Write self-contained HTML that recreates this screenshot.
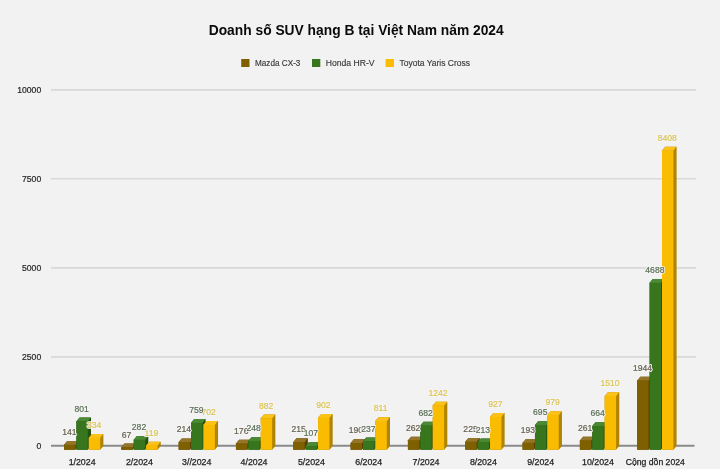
<!DOCTYPE html>
<html><head><meta charset="utf-8"><style>html,body{margin:0;padding:0;width:720px;height:469px;overflow:hidden;background:#f2f2f2;font-family:"Liberation Sans",sans-serif}</style></head><body>
<svg width="720" height="469" viewBox="0 0 720 469" style="position:absolute;left:0;top:0;will-change:transform">
<rect width="720" height="469" fill="#f2f2f2"/>
<text x="208.7" y="35.3" textLength="295" lengthAdjust="spacingAndGlyphs" font-family="Liberation Sans, sans-serif" font-weight="bold" font-size="14.2" fill="#0a0a0a">Doanh số SUV hạng B tại Việt Nam năm 2024</text>
<rect x="241.2" y="59" width="8.3" height="8" fill="#7f6000"/>
<text x="255" y="66.1" textLength="45.4" lengthAdjust="spacingAndGlyphs" font-family="Liberation Sans, sans-serif" font-size="8.6" fill="#3a3a3a" stroke="#3a3a3a" stroke-width="0.15">Mazda CX-3</text>
<rect x="312" y="59" width="8.3" height="8" fill="#38761d"/>
<text x="325.7" y="66.1" textLength="48.8" lengthAdjust="spacingAndGlyphs" font-family="Liberation Sans, sans-serif" font-size="8.6" fill="#3a3a3a" stroke="#3a3a3a" stroke-width="0.15">Honda HR-V</text>
<rect x="385.6" y="59" width="8.3" height="8" fill="#f9bc00"/>
<text x="399.6" y="66.1" textLength="70.4" lengthAdjust="spacingAndGlyphs" font-family="Liberation Sans, sans-serif" font-size="8.6" fill="#3a3a3a" stroke="#3a3a3a" stroke-width="0.15">Toyota Yaris Cross</text>
<line x1="51" y1="89.9" x2="696" y2="89.9" stroke="#d9d9d9" stroke-width="1.6"/>
<text x="41.2" y="92.8" text-anchor="end" font-family="Liberation Sans, sans-serif" font-size="8.6" fill="#262626" stroke="#262626" stroke-width="0.2">10000</text>
<line x1="51" y1="178.8" x2="696" y2="178.8" stroke="#d9d9d9" stroke-width="1.6"/>
<text x="41.2" y="181.7" text-anchor="end" font-family="Liberation Sans, sans-serif" font-size="8.6" fill="#262626" stroke="#262626" stroke-width="0.2">7500</text>
<line x1="51" y1="267.9" x2="696" y2="267.9" stroke="#d9d9d9" stroke-width="1.6"/>
<text x="41.2" y="270.8" text-anchor="end" font-family="Liberation Sans, sans-serif" font-size="8.6" fill="#262626" stroke="#262626" stroke-width="0.2">5000</text>
<line x1="51" y1="356.9" x2="696" y2="356.9" stroke="#d9d9d9" stroke-width="1.6"/>
<text x="41.2" y="359.8" text-anchor="end" font-family="Liberation Sans, sans-serif" font-size="8.6" fill="#262626" stroke="#262626" stroke-width="0.2">2500</text>
<text x="41.2" y="449" text-anchor="end" font-family="Liberation Sans, sans-serif" font-size="8.6" fill="#262626" stroke="#262626" stroke-width="0.2">0</text>
<line x1="51" y1="445.8" x2="694.5" y2="445.8" stroke="#8a8a8a" stroke-width="2"/>
<polygon points="64,449.7 64,444.68 67.2,440.98 78.6,440.98 78.6,446 75.4,449.7" fill="#574000"/>
<polygon points="64,444.98 67.2,440.98 78.3,440.98 75.4,444.98" fill="#94752a"/>
<rect x="64" y="444.68" width="11.4" height="5.02" fill="#7f6000"/>
<polygon points="76.4,449.7 76.4,421.18 79.6,417.48 91,417.48 91,446 87.8,449.7" fill="#255212"/>
<polygon points="76.4,421.48 79.6,417.48 90.7,417.48 87.8,421.48" fill="#4a8a34"/>
<rect x="76.4" y="421.18" width="11.4" height="28.52" fill="#38761d"/>
<polygon points="88.8,449.7 88.8,437.81 92,434.11 103.4,434.11 103.4,446 100.2,449.7" fill="#b08400"/>
<polygon points="88.8,438.11 92,434.11 103.1,434.11 100.2,438.11" fill="#fbc31a"/>
<rect x="88.8" y="437.81" width="11.4" height="11.89" fill="#f9bc00"/>
<text x="82.1" y="464.8" text-anchor="middle" font-family="Liberation Sans, sans-serif" font-size="8.8" fill="#1e1e1e" stroke="#1e1e1e" stroke-width="0.25">1/2024</text>
<polygon points="121.32,449.7 121.32,447.31 124.52,443.61 135.92,443.61 135.92,446 132.72,449.7" fill="#574000"/>
<polygon points="121.32,447.61 124.52,443.61 135.62,443.61 132.72,447.61" fill="#94752a"/>
<rect x="121.32" y="447.31" width="11.4" height="2.39" fill="#7f6000"/>
<polygon points="133.72,449.7 133.72,439.66 136.92,435.96 148.32,435.96 148.32,446 145.12,449.7" fill="#255212"/>
<polygon points="133.72,439.96 136.92,435.96 148.02,435.96 145.12,439.96" fill="#4a8a34"/>
<rect x="133.72" y="439.66" width="11.4" height="10.04" fill="#38761d"/>
<polygon points="146.12,449.7 146.12,445.46 149.32,441.76 160.72,441.76 160.72,446 157.52,449.7" fill="#b08400"/>
<polygon points="146.12,445.76 149.32,441.76 160.42,441.76 157.52,445.76" fill="#fbc31a"/>
<rect x="146.12" y="445.46" width="11.4" height="4.24" fill="#f9bc00"/>
<text x="139.42" y="464.8" text-anchor="middle" font-family="Liberation Sans, sans-serif" font-size="8.8" fill="#1e1e1e" stroke="#1e1e1e" stroke-width="0.25">2/2024</text>
<polygon points="178.64,449.7 178.64,442.08 181.84,438.38 193.24,438.38 193.24,446 190.04,449.7" fill="#574000"/>
<polygon points="178.64,442.38 181.84,438.38 192.94,438.38 190.04,442.38" fill="#94752a"/>
<rect x="178.64" y="442.08" width="11.4" height="7.62" fill="#7f6000"/>
<polygon points="191.04,449.7 191.04,422.68 194.24,418.98 205.64,418.98 205.64,446 202.44,449.7" fill="#255212"/>
<polygon points="191.04,422.98 194.24,418.98 205.34,418.98 202.44,422.98" fill="#4a8a34"/>
<rect x="191.04" y="422.68" width="11.4" height="27.02" fill="#38761d"/>
<polygon points="203.44,449.7 203.44,424.71 206.64,421.01 218.04,421.01 218.04,446 214.84,449.7" fill="#b08400"/>
<polygon points="203.44,425.01 206.64,421.01 217.74,421.01 214.84,425.01" fill="#fbc31a"/>
<rect x="203.44" y="424.71" width="11.4" height="24.99" fill="#f9bc00"/>
<text x="196.74" y="464.8" text-anchor="middle" font-family="Liberation Sans, sans-serif" font-size="8.8" fill="#1e1e1e" stroke="#1e1e1e" stroke-width="0.25">3//2024</text>
<polygon points="235.96,449.7 235.96,443.43 239.16,439.73 250.56,439.73 250.56,446 247.36,449.7" fill="#574000"/>
<polygon points="235.96,443.73 239.16,439.73 250.26,439.73 247.36,443.73" fill="#94752a"/>
<rect x="235.96" y="443.43" width="11.4" height="6.27" fill="#7f6000"/>
<polygon points="248.36,449.7 248.36,440.87 251.56,437.17 262.96,437.17 262.96,446 259.76,449.7" fill="#255212"/>
<polygon points="248.36,441.17 251.56,437.17 262.66,437.17 259.76,441.17" fill="#4a8a34"/>
<rect x="248.36" y="440.87" width="11.4" height="8.83" fill="#38761d"/>
<polygon points="260.76,449.7 260.76,418.3 263.96,414.6 275.36,414.6 275.36,446 272.16,449.7" fill="#b08400"/>
<polygon points="260.76,418.6 263.96,414.6 275.06,414.6 272.16,418.6" fill="#fbc31a"/>
<rect x="260.76" y="418.3" width="11.4" height="31.4" fill="#f9bc00"/>
<text x="254.06" y="464.8" text-anchor="middle" font-family="Liberation Sans, sans-serif" font-size="8.8" fill="#1e1e1e" stroke="#1e1e1e" stroke-width="0.25">4/2024</text>
<polygon points="293.28,449.7 293.28,442.05 296.48,438.35 307.88,438.35 307.88,446 304.68,449.7" fill="#574000"/>
<polygon points="293.28,442.35 296.48,438.35 307.58,438.35 304.68,442.35" fill="#94752a"/>
<rect x="293.28" y="442.05" width="11.4" height="7.65" fill="#7f6000"/>
<polygon points="305.68,449.7 305.68,445.89 308.88,442.19 320.28,442.19 320.28,446 317.08,449.7" fill="#255212"/>
<polygon points="305.68,446.19 308.88,442.19 319.98,442.19 317.08,446.19" fill="#4a8a34"/>
<rect x="305.68" y="445.89" width="11.4" height="3.81" fill="#38761d"/>
<polygon points="318.08,449.7 318.08,417.59 321.28,413.89 332.68,413.89 332.68,446 329.48,449.7" fill="#b08400"/>
<polygon points="318.08,417.89 321.28,413.89 332.38,413.89 329.48,417.89" fill="#fbc31a"/>
<rect x="318.08" y="417.59" width="11.4" height="32.11" fill="#f9bc00"/>
<text x="311.38" y="464.8" text-anchor="middle" font-family="Liberation Sans, sans-serif" font-size="8.8" fill="#1e1e1e" stroke="#1e1e1e" stroke-width="0.25">5/2024</text>
<polygon points="350.6,449.7 350.6,442.94 353.8,439.24 365.2,439.24 365.2,446 362,449.7" fill="#574000"/>
<polygon points="350.6,443.24 353.8,439.24 364.9,439.24 362,443.24" fill="#94752a"/>
<rect x="350.6" y="442.94" width="11.4" height="6.76" fill="#7f6000"/>
<polygon points="363,449.7 363,441.26 366.2,437.56 377.6,437.56 377.6,446 374.4,449.7" fill="#255212"/>
<polygon points="363,441.56 366.2,437.56 377.3,437.56 374.4,441.56" fill="#4a8a34"/>
<rect x="363" y="441.26" width="11.4" height="8.44" fill="#38761d"/>
<polygon points="375.4,449.7 375.4,420.83 378.6,417.13 390,417.13 390,446 386.8,449.7" fill="#b08400"/>
<polygon points="375.4,421.13 378.6,417.13 389.7,417.13 386.8,421.13" fill="#fbc31a"/>
<rect x="375.4" y="420.83" width="11.4" height="28.87" fill="#f9bc00"/>
<text x="368.7" y="464.8" text-anchor="middle" font-family="Liberation Sans, sans-serif" font-size="8.8" fill="#1e1e1e" stroke="#1e1e1e" stroke-width="0.25">6/2024</text>
<polygon points="407.92,449.7 407.92,440.37 411.12,436.67 422.52,436.67 422.52,446 419.32,449.7" fill="#574000"/>
<polygon points="407.92,440.67 411.12,436.67 422.22,436.67 419.32,440.67" fill="#94752a"/>
<rect x="407.92" y="440.37" width="11.4" height="9.33" fill="#7f6000"/>
<polygon points="420.32,449.7 420.32,425.42 423.52,421.72 434.92,421.72 434.92,446 431.72,449.7" fill="#255212"/>
<polygon points="420.32,425.72 423.52,421.72 434.62,421.72 431.72,425.72" fill="#4a8a34"/>
<rect x="420.32" y="425.42" width="11.4" height="24.28" fill="#38761d"/>
<polygon points="432.72,449.7 432.72,405.48 435.92,401.78 447.32,401.78 447.32,446 444.12,449.7" fill="#b08400"/>
<polygon points="432.72,405.78 435.92,401.78 447.02,401.78 444.12,405.78" fill="#fbc31a"/>
<rect x="432.72" y="405.48" width="11.4" height="44.22" fill="#f9bc00"/>
<text x="426.02" y="464.8" text-anchor="middle" font-family="Liberation Sans, sans-serif" font-size="8.8" fill="#1e1e1e" stroke="#1e1e1e" stroke-width="0.25">7/2024</text>
<polygon points="465.24,449.7 465.24,441.69 468.44,437.99 479.84,437.99 479.84,446 476.64,449.7" fill="#574000"/>
<polygon points="465.24,441.99 468.44,437.99 479.54,437.99 476.64,441.99" fill="#94752a"/>
<rect x="465.24" y="441.69" width="11.4" height="8.01" fill="#7f6000"/>
<polygon points="477.64,449.7 477.64,442.12 480.84,438.42 492.24,438.42 492.24,446 489.04,449.7" fill="#255212"/>
<polygon points="477.64,442.42 480.84,438.42 491.94,438.42 489.04,442.42" fill="#4a8a34"/>
<rect x="477.64" y="442.12" width="11.4" height="7.58" fill="#38761d"/>
<polygon points="490.04,449.7 490.04,416.7 493.24,413 504.64,413 504.64,446 501.44,449.7" fill="#b08400"/>
<polygon points="490.04,417 493.24,413 504.34,413 501.44,417" fill="#fbc31a"/>
<rect x="490.04" y="416.7" width="11.4" height="33" fill="#f9bc00"/>
<text x="483.34" y="464.8" text-anchor="middle" font-family="Liberation Sans, sans-serif" font-size="8.8" fill="#1e1e1e" stroke="#1e1e1e" stroke-width="0.25">8/2024</text>
<polygon points="522.56,449.7 522.56,442.83 525.76,439.13 537.16,439.13 537.16,446 533.96,449.7" fill="#574000"/>
<polygon points="522.56,443.13 525.76,439.13 536.86,439.13 533.96,443.13" fill="#94752a"/>
<rect x="522.56" y="442.83" width="11.4" height="6.87" fill="#7f6000"/>
<polygon points="534.96,449.7 534.96,424.96 538.16,421.26 549.56,421.26 549.56,446 546.36,449.7" fill="#255212"/>
<polygon points="534.96,425.26 538.16,421.26 549.26,421.26 546.36,425.26" fill="#4a8a34"/>
<rect x="534.96" y="424.96" width="11.4" height="24.74" fill="#38761d"/>
<polygon points="547.36,449.7 547.36,414.85 550.56,411.15 561.96,411.15 561.96,446 558.76,449.7" fill="#b08400"/>
<polygon points="547.36,415.15 550.56,411.15 561.66,411.15 558.76,415.15" fill="#fbc31a"/>
<rect x="547.36" y="414.85" width="11.4" height="34.85" fill="#f9bc00"/>
<text x="540.66" y="464.8" text-anchor="middle" font-family="Liberation Sans, sans-serif" font-size="8.8" fill="#1e1e1e" stroke="#1e1e1e" stroke-width="0.25">9/2024</text>
<polygon points="579.88,449.7 579.88,440.41 583.08,436.71 594.48,436.71 594.48,446 591.28,449.7" fill="#574000"/>
<polygon points="579.88,440.71 583.08,436.71 594.18,436.71 591.28,440.71" fill="#94752a"/>
<rect x="579.88" y="440.41" width="11.4" height="9.29" fill="#7f6000"/>
<polygon points="592.28,449.7 592.28,426.06 595.48,422.36 606.88,422.36 606.88,446 603.68,449.7" fill="#255212"/>
<polygon points="592.28,426.36 595.48,422.36 606.58,422.36 603.68,426.36" fill="#4a8a34"/>
<rect x="592.28" y="426.06" width="11.4" height="23.64" fill="#38761d"/>
<polygon points="604.68,449.7 604.68,395.94 607.88,392.24 619.28,392.24 619.28,446 616.08,449.7" fill="#b08400"/>
<polygon points="604.68,396.24 607.88,392.24 618.98,392.24 616.08,396.24" fill="#fbc31a"/>
<rect x="604.68" y="395.94" width="11.4" height="53.76" fill="#f9bc00"/>
<text x="597.98" y="464.8" text-anchor="middle" font-family="Liberation Sans, sans-serif" font-size="8.8" fill="#1e1e1e" stroke="#1e1e1e" stroke-width="0.25">10/2024</text>
<polygon points="637.2,449.7 637.2,380.49 640.4,376.79 651.8,376.79 651.8,446 648.6,449.7" fill="#574000"/>
<polygon points="637.2,380.79 640.4,376.79 651.5,376.79 648.6,380.79" fill="#94752a"/>
<rect x="637.2" y="380.49" width="11.4" height="69.21" fill="#7f6000"/>
<polygon points="649.6,449.7 649.6,282.81 652.8,279.11 664.2,279.11 664.2,446 661,449.7" fill="#255212"/>
<polygon points="649.6,283.11 652.8,279.11 663.9,279.11 661,283.11" fill="#4a8a34"/>
<rect x="649.6" y="282.81" width="11.4" height="166.89" fill="#38761d"/>
<polygon points="662,449.7 662,150.38 665.2,146.68 676.6,146.68 676.6,446 673.4,449.7" fill="#b08400"/>
<polygon points="662,150.68 665.2,146.68 676.3,146.68 673.4,150.68" fill="#fbc31a"/>
<rect x="662" y="150.38" width="11.4" height="299.32" fill="#f9bc00"/>
<text x="655.3" y="464.8" textLength="59" lengthAdjust="spacingAndGlyphs" text-anchor="middle" font-family="Liberation Sans, sans-serif" font-size="8.8" fill="#1e1e1e" stroke="#1e1e1e" stroke-width="0.25">Cộng dồn 2024</text>
<text x="69.3" y="435.08" text-anchor="middle" font-family="Liberation Sans, sans-serif" font-size="8.6" fill="#f6f6f6" stroke="#f6f6f6" stroke-width="2" stroke-linejoin="round" opacity="0.9">141</text>
<text x="69.3" y="435.08" text-anchor="middle" font-family="Liberation Sans, sans-serif" font-size="8.6" fill="#676150" stroke="#676150" stroke-width="0.2">141</text>
<text x="126.62" y="437.71" text-anchor="middle" font-family="Liberation Sans, sans-serif" font-size="8.6" fill="#f6f6f6" stroke="#f6f6f6" stroke-width="2" stroke-linejoin="round" opacity="0.9">67</text>
<text x="126.62" y="437.71" text-anchor="middle" font-family="Liberation Sans, sans-serif" font-size="8.6" fill="#676150" stroke="#676150" stroke-width="0.2">67</text>
<text x="183.94" y="432.48" text-anchor="middle" font-family="Liberation Sans, sans-serif" font-size="8.6" fill="#f6f6f6" stroke="#f6f6f6" stroke-width="2" stroke-linejoin="round" opacity="0.9">214</text>
<text x="183.94" y="432.48" text-anchor="middle" font-family="Liberation Sans, sans-serif" font-size="8.6" fill="#676150" stroke="#676150" stroke-width="0.2">214</text>
<text x="241.26" y="433.83" text-anchor="middle" font-family="Liberation Sans, sans-serif" font-size="8.6" fill="#f6f6f6" stroke="#f6f6f6" stroke-width="2" stroke-linejoin="round" opacity="0.9">176</text>
<text x="241.26" y="433.83" text-anchor="middle" font-family="Liberation Sans, sans-serif" font-size="8.6" fill="#676150" stroke="#676150" stroke-width="0.2">176</text>
<text x="298.58" y="432.45" text-anchor="middle" font-family="Liberation Sans, sans-serif" font-size="8.6" fill="#f6f6f6" stroke="#f6f6f6" stroke-width="2" stroke-linejoin="round" opacity="0.9">215</text>
<text x="298.58" y="432.45" text-anchor="middle" font-family="Liberation Sans, sans-serif" font-size="8.6" fill="#676150" stroke="#676150" stroke-width="0.2">215</text>
<text x="355.9" y="433.34" text-anchor="middle" font-family="Liberation Sans, sans-serif" font-size="8.6" fill="#f6f6f6" stroke="#f6f6f6" stroke-width="2" stroke-linejoin="round" opacity="0.9">190</text>
<text x="355.9" y="433.34" text-anchor="middle" font-family="Liberation Sans, sans-serif" font-size="8.6" fill="#676150" stroke="#676150" stroke-width="0.2">190</text>
<text x="413.22" y="430.77" text-anchor="middle" font-family="Liberation Sans, sans-serif" font-size="8.6" fill="#f6f6f6" stroke="#f6f6f6" stroke-width="2" stroke-linejoin="round" opacity="0.9">262</text>
<text x="413.22" y="430.77" text-anchor="middle" font-family="Liberation Sans, sans-serif" font-size="8.6" fill="#676150" stroke="#676150" stroke-width="0.2">262</text>
<text x="470.54" y="432.09" text-anchor="middle" font-family="Liberation Sans, sans-serif" font-size="8.6" fill="#f6f6f6" stroke="#f6f6f6" stroke-width="2" stroke-linejoin="round" opacity="0.9">225</text>
<text x="470.54" y="432.09" text-anchor="middle" font-family="Liberation Sans, sans-serif" font-size="8.6" fill="#676150" stroke="#676150" stroke-width="0.2">225</text>
<text x="527.86" y="433.23" text-anchor="middle" font-family="Liberation Sans, sans-serif" font-size="8.6" fill="#f6f6f6" stroke="#f6f6f6" stroke-width="2" stroke-linejoin="round" opacity="0.9">193</text>
<text x="527.86" y="433.23" text-anchor="middle" font-family="Liberation Sans, sans-serif" font-size="8.6" fill="#676150" stroke="#676150" stroke-width="0.2">193</text>
<text x="585.18" y="430.81" text-anchor="middle" font-family="Liberation Sans, sans-serif" font-size="8.6" fill="#f6f6f6" stroke="#f6f6f6" stroke-width="2" stroke-linejoin="round" opacity="0.9">261</text>
<text x="585.18" y="430.81" text-anchor="middle" font-family="Liberation Sans, sans-serif" font-size="8.6" fill="#676150" stroke="#676150" stroke-width="0.2">261</text>
<text x="642.5" y="370.89" text-anchor="middle" font-family="Liberation Sans, sans-serif" font-size="8.6" fill="#f6f6f6" stroke="#f6f6f6" stroke-width="2" stroke-linejoin="round" opacity="0.9">1944</text>
<text x="642.5" y="370.89" text-anchor="middle" font-family="Liberation Sans, sans-serif" font-size="8.6" fill="#676150" stroke="#676150" stroke-width="0.2">1944</text>
<text x="94.1" y="428.21" text-anchor="middle" font-family="Liberation Sans, sans-serif" font-size="8.6" fill="#f6f6f6" stroke="#f6f6f6" stroke-width="2" stroke-linejoin="round" opacity="0.9">334</text>
<text x="94.1" y="428.21" text-anchor="middle" font-family="Liberation Sans, sans-serif" font-size="8.6" fill="#dcc455" stroke="#dcc455" stroke-width="0.2">334</text>
<text x="151.42" y="435.86" text-anchor="middle" font-family="Liberation Sans, sans-serif" font-size="8.6" fill="#f6f6f6" stroke="#f6f6f6" stroke-width="2" stroke-linejoin="round" opacity="0.9">119</text>
<text x="151.42" y="435.86" text-anchor="middle" font-family="Liberation Sans, sans-serif" font-size="8.6" fill="#dcc455" stroke="#dcc455" stroke-width="0.2">119</text>
<text x="208.74" y="415.11" text-anchor="middle" font-family="Liberation Sans, sans-serif" font-size="8.6" fill="#f6f6f6" stroke="#f6f6f6" stroke-width="2" stroke-linejoin="round" opacity="0.9">702</text>
<text x="208.74" y="415.11" text-anchor="middle" font-family="Liberation Sans, sans-serif" font-size="8.6" fill="#dcc455" stroke="#dcc455" stroke-width="0.2">702</text>
<text x="266.06" y="408.7" text-anchor="middle" font-family="Liberation Sans, sans-serif" font-size="8.6" fill="#f6f6f6" stroke="#f6f6f6" stroke-width="2" stroke-linejoin="round" opacity="0.9">882</text>
<text x="266.06" y="408.7" text-anchor="middle" font-family="Liberation Sans, sans-serif" font-size="8.6" fill="#dcc455" stroke="#dcc455" stroke-width="0.2">882</text>
<text x="323.38" y="407.99" text-anchor="middle" font-family="Liberation Sans, sans-serif" font-size="8.6" fill="#f6f6f6" stroke="#f6f6f6" stroke-width="2" stroke-linejoin="round" opacity="0.9">902</text>
<text x="323.38" y="407.99" text-anchor="middle" font-family="Liberation Sans, sans-serif" font-size="8.6" fill="#dcc455" stroke="#dcc455" stroke-width="0.2">902</text>
<text x="380.7" y="411.23" text-anchor="middle" font-family="Liberation Sans, sans-serif" font-size="8.6" fill="#f6f6f6" stroke="#f6f6f6" stroke-width="2" stroke-linejoin="round" opacity="0.9">811</text>
<text x="380.7" y="411.23" text-anchor="middle" font-family="Liberation Sans, sans-serif" font-size="8.6" fill="#dcc455" stroke="#dcc455" stroke-width="0.2">811</text>
<text x="438.02" y="395.88" text-anchor="middle" font-family="Liberation Sans, sans-serif" font-size="8.6" fill="#f6f6f6" stroke="#f6f6f6" stroke-width="2" stroke-linejoin="round" opacity="0.9">1242</text>
<text x="438.02" y="395.88" text-anchor="middle" font-family="Liberation Sans, sans-serif" font-size="8.6" fill="#dcc455" stroke="#dcc455" stroke-width="0.2">1242</text>
<text x="495.34" y="407.1" text-anchor="middle" font-family="Liberation Sans, sans-serif" font-size="8.6" fill="#f6f6f6" stroke="#f6f6f6" stroke-width="2" stroke-linejoin="round" opacity="0.9">927</text>
<text x="495.34" y="407.1" text-anchor="middle" font-family="Liberation Sans, sans-serif" font-size="8.6" fill="#dcc455" stroke="#dcc455" stroke-width="0.2">927</text>
<text x="552.66" y="405.25" text-anchor="middle" font-family="Liberation Sans, sans-serif" font-size="8.6" fill="#f6f6f6" stroke="#f6f6f6" stroke-width="2" stroke-linejoin="round" opacity="0.9">979</text>
<text x="552.66" y="405.25" text-anchor="middle" font-family="Liberation Sans, sans-serif" font-size="8.6" fill="#dcc455" stroke="#dcc455" stroke-width="0.2">979</text>
<text x="609.98" y="386.34" text-anchor="middle" font-family="Liberation Sans, sans-serif" font-size="8.6" fill="#f6f6f6" stroke="#f6f6f6" stroke-width="2" stroke-linejoin="round" opacity="0.9">1510</text>
<text x="609.98" y="386.34" text-anchor="middle" font-family="Liberation Sans, sans-serif" font-size="8.6" fill="#dcc455" stroke="#dcc455" stroke-width="0.2">1510</text>
<text x="667.3" y="140.78" text-anchor="middle" font-family="Liberation Sans, sans-serif" font-size="8.6" fill="#f6f6f6" stroke="#f6f6f6" stroke-width="2" stroke-linejoin="round" opacity="0.9">8408</text>
<text x="667.3" y="140.78" text-anchor="middle" font-family="Liberation Sans, sans-serif" font-size="8.6" fill="#dcc455" stroke="#dcc455" stroke-width="0.2">8408</text>
<text x="81.7" y="411.58" text-anchor="middle" font-family="Liberation Sans, sans-serif" font-size="8.6" fill="#f6f6f6" stroke="#f6f6f6" stroke-width="2" stroke-linejoin="round" opacity="0.9">801</text>
<text x="81.7" y="411.58" text-anchor="middle" font-family="Liberation Sans, sans-serif" font-size="8.6" fill="#5c6e57" stroke="#5c6e57" stroke-width="0.2">801</text>
<text x="139.02" y="430.06" text-anchor="middle" font-family="Liberation Sans, sans-serif" font-size="8.6" fill="#f6f6f6" stroke="#f6f6f6" stroke-width="2" stroke-linejoin="round" opacity="0.9">282</text>
<text x="139.02" y="430.06" text-anchor="middle" font-family="Liberation Sans, sans-serif" font-size="8.6" fill="#5c6e57" stroke="#5c6e57" stroke-width="0.2">282</text>
<text x="196.34" y="413.08" text-anchor="middle" font-family="Liberation Sans, sans-serif" font-size="8.6" fill="#f6f6f6" stroke="#f6f6f6" stroke-width="2" stroke-linejoin="round" opacity="0.9">759</text>
<text x="196.34" y="413.08" text-anchor="middle" font-family="Liberation Sans, sans-serif" font-size="8.6" fill="#5c6e57" stroke="#5c6e57" stroke-width="0.2">759</text>
<text x="253.66" y="431.27" text-anchor="middle" font-family="Liberation Sans, sans-serif" font-size="8.6" fill="#f6f6f6" stroke="#f6f6f6" stroke-width="2" stroke-linejoin="round" opacity="0.9">248</text>
<text x="253.66" y="431.27" text-anchor="middle" font-family="Liberation Sans, sans-serif" font-size="8.6" fill="#5c6e57" stroke="#5c6e57" stroke-width="0.2">248</text>
<text x="310.98" y="436.29" text-anchor="middle" font-family="Liberation Sans, sans-serif" font-size="8.6" fill="#f6f6f6" stroke="#f6f6f6" stroke-width="2" stroke-linejoin="round" opacity="0.9">107</text>
<text x="310.98" y="436.29" text-anchor="middle" font-family="Liberation Sans, sans-serif" font-size="8.6" fill="#5c6e57" stroke="#5c6e57" stroke-width="0.2">107</text>
<text x="368.3" y="431.66" text-anchor="middle" font-family="Liberation Sans, sans-serif" font-size="8.6" fill="#f6f6f6" stroke="#f6f6f6" stroke-width="2" stroke-linejoin="round" opacity="0.9">237</text>
<text x="368.3" y="431.66" text-anchor="middle" font-family="Liberation Sans, sans-serif" font-size="8.6" fill="#5c6e57" stroke="#5c6e57" stroke-width="0.2">237</text>
<text x="425.62" y="415.82" text-anchor="middle" font-family="Liberation Sans, sans-serif" font-size="8.6" fill="#f6f6f6" stroke="#f6f6f6" stroke-width="2" stroke-linejoin="round" opacity="0.9">682</text>
<text x="425.62" y="415.82" text-anchor="middle" font-family="Liberation Sans, sans-serif" font-size="8.6" fill="#5c6e57" stroke="#5c6e57" stroke-width="0.2">682</text>
<text x="482.94" y="432.52" text-anchor="middle" font-family="Liberation Sans, sans-serif" font-size="8.6" fill="#f6f6f6" stroke="#f6f6f6" stroke-width="2" stroke-linejoin="round" opacity="0.9">213</text>
<text x="482.94" y="432.52" text-anchor="middle" font-family="Liberation Sans, sans-serif" font-size="8.6" fill="#5c6e57" stroke="#5c6e57" stroke-width="0.2">213</text>
<text x="540.26" y="415.36" text-anchor="middle" font-family="Liberation Sans, sans-serif" font-size="8.6" fill="#f6f6f6" stroke="#f6f6f6" stroke-width="2" stroke-linejoin="round" opacity="0.9">695</text>
<text x="540.26" y="415.36" text-anchor="middle" font-family="Liberation Sans, sans-serif" font-size="8.6" fill="#5c6e57" stroke="#5c6e57" stroke-width="0.2">695</text>
<text x="597.58" y="416.46" text-anchor="middle" font-family="Liberation Sans, sans-serif" font-size="8.6" fill="#f6f6f6" stroke="#f6f6f6" stroke-width="2" stroke-linejoin="round" opacity="0.9">664</text>
<text x="597.58" y="416.46" text-anchor="middle" font-family="Liberation Sans, sans-serif" font-size="8.6" fill="#5c6e57" stroke="#5c6e57" stroke-width="0.2">664</text>
<text x="654.9" y="273.21" text-anchor="middle" font-family="Liberation Sans, sans-serif" font-size="8.6" fill="#f6f6f6" stroke="#f6f6f6" stroke-width="2" stroke-linejoin="round" opacity="0.9">4688</text>
<text x="654.9" y="273.21" text-anchor="middle" font-family="Liberation Sans, sans-serif" font-size="8.6" fill="#5c6e57" stroke="#5c6e57" stroke-width="0.2">4688</text>
</svg>
</body></html>
